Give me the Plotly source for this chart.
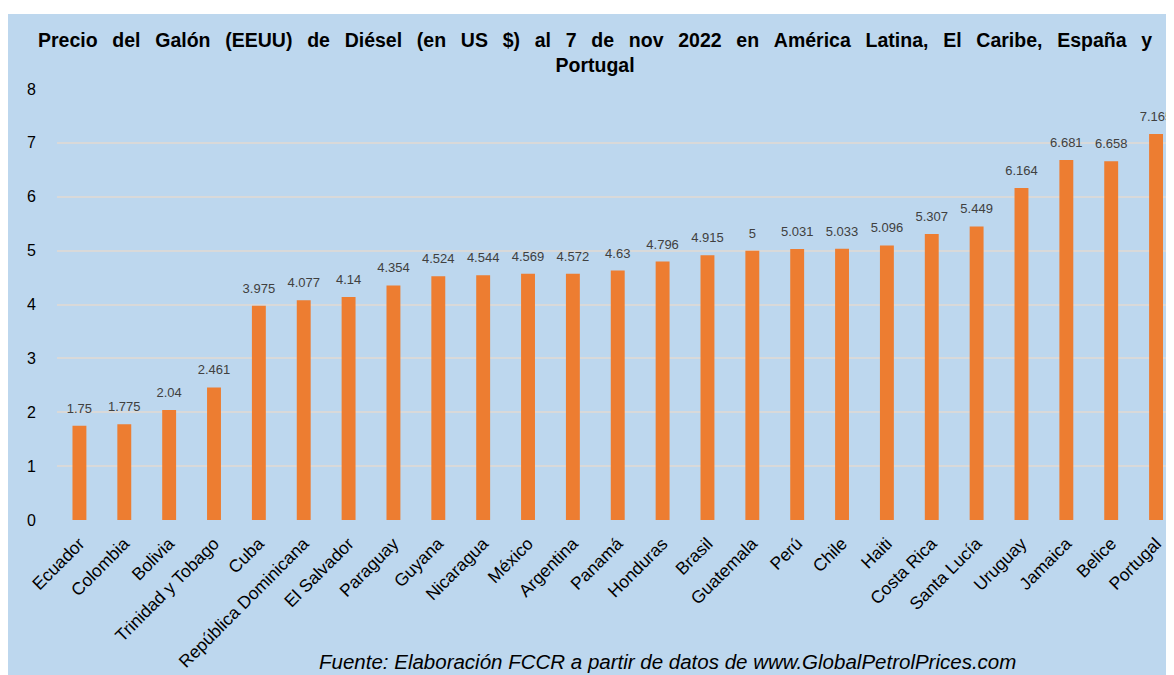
import plotly.graph_objects as go

BG = "#BDD7EE"
BAR = "#ED7D31"
GRID = "#D9D9D9"
TXT = "#000000"
FONT = "Liberation Sans, Arial, sans-serif"

countries = [
    "Ecuador", "Colombia", "Bolivia", "Trinidad y Tobago", "Cuba",
    "República Dominicana", "El Salvador", "Paraguay", "Guyana", "Nicaragua",
    "México", "Argentina", "Panamá", "Honduras", "Brasil", "Guatemala",
    "Perú", "Chile", "Haiti", "Costa Rica", "Santa Lucía", "Uruguay",
    "Jamaica", "Belice", "Portugal",
]
prices = [
    1.75, 1.775, 2.04, 2.461, 3.975, 4.077, 4.14, 4.354, 4.524, 4.544,
    4.569, 4.572, 4.63, 4.796, 4.915, 5, 5.031, 5.033, 5.096, 5.307,
    5.449, 6.164, 6.681, 6.658, 7.165,
]
labels = [f"{p:g}" for p in prices]

fig = go.Figure()
fig.add_trace(go.Bar(
    x=countries, y=prices,
    marker=dict(color=BAR, line=dict(width=0)),
    hoverinfo="x+y",
))
# value labels: invisible markers push the text a bit above the bar tops
fig.add_trace(go.Scatter(
    x=countries, y=prices, text=labels, mode="markers+text",
    textposition="top center", cliponaxis=False,
    marker=dict(size=14, color="rgba(0,0,0,0)"),
    textfont=dict(size=13, color="#404040", family=FONT),
    hoverinfo="skip",
))

# white strip along the top edge of the picture
fig.add_shape(type="rect", xref="paper", yref="paper", x0=-0.06, x1=1.05,
              y0=1.174, y1=1.25, fillcolor="white", line_width=0, layer="below")

fig.add_annotation(
    text="Fuente: Elaboración FCCR a partir de datos de www.GlobalPetrolPrices.com",
    xref="paper", yref="paper", x=0.547, y=-0.329, xanchor="center", yanchor="middle",
    showarrow=False, font=dict(size=20.5, color=TXT, family=FONT, style="italic"),
)

# the title line is justified in the original, so widen the word gaps
GAP = "\u00a0\u00a0\u2009"
title_1 = ("Precio del Galón (EEUU) de Diésel (en US $) al 7 de nov 2022 "
           "en América Latina, El Caribe, España y").replace(" ", GAP)

fig.update_layout(
    width=1166, height=667,
    title=dict(
        text=title_1 + "<br>Portugal",
        font=dict(size=19.5, color=TXT, family=FONT, weight="bold"),
        x=0.4817, xanchor="center", xref="paper", y=0.942, yanchor="top",
    ),
    paper_bgcolor=BG, plot_bgcolor=BG,
    font=dict(family=FONT, color=TXT),
    margin=dict(l=49, r=0, t=81, b=155),
    bargap=0.69,
    showlegend=False,
    xaxis=dict(
        range=[-0.5, 24.4], tickangle=-45, showgrid=False, ticks="",
        tickfont=dict(size=17.5, color=TXT), showline=False, ticklabelstandoff=9,
    ),
    yaxis=dict(
        range=[0, 8], dtick=1, gridcolor=GRID, gridwidth=1.5, zeroline=False,
        tickfont=dict(size=16, color=TXT), ticklabelstandoff=20,
    ),
)

fig.write_html("out.html")
